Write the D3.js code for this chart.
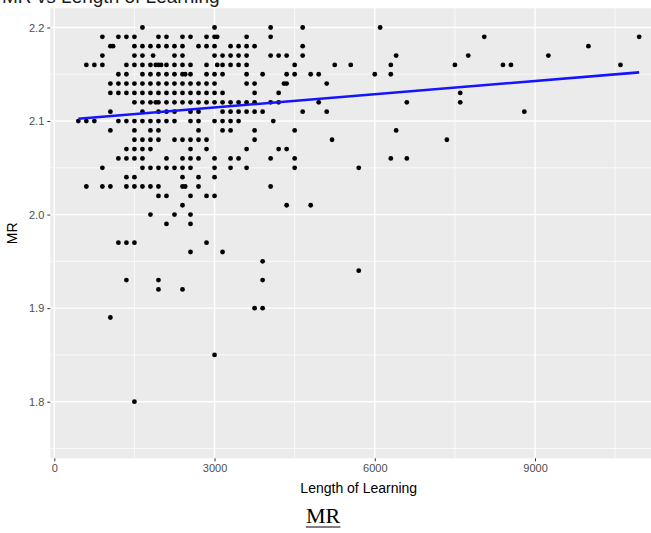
<!DOCTYPE html>
<html>
<head>
<meta charset="utf-8">
<script src="https://cdn.jsdelivr.net/npm/d3@7"></script>
<style>
  html, body { margin: 0; padding: 0; background: #ffffff; }
  svg { display: block; }
</style>
</head>
<body>
<div id="chart"></div>
<script>
// ---- data ----
const mrRows = [2.20, 2.19, 2.18, 2.17, 2.16, 2.15, 2.14, 2.13, 2.12, 2.11, 2.10,
                2.09, 2.08, 2.07, 2.06, 2.05, 2.04, 2.03, 2.02, 2.01, 2.00,
                1.99, 1.97, 1.96, 1.95, 1.94, 1.93, 1.92, 1.90, 1.89, 1.85, 1.80];
const learningByRow = [
  [1650, 3000, 4050, 4650, 6100],
  [900, 1200, 1350, 1500, 1950, 2100, 2400, 2550, 2850, 3000, 3050, 3600, 4050, 8050, 10950],
  [1050, 1100, 1500, 1650, 1800, 1950, 2100, 2250, 2400, 2700, 2850, 3000, 3300, 3450, 3600, 3750, 4650, 10000],
  [900, 1500, 1650, 1850, 2250, 2400, 3000, 3150, 3300, 3450, 3600, 4050, 4200, 4350, 4650, 6400, 7750, 9250],
  [600, 750, 900, 1350, 1500, 1650, 1800, 1900, 1950, 2000, 2100, 2250, 2400, 2550, 2850, 3050, 3150, 3300, 3450, 3600, 4500, 5250, 5550, 6300, 7500, 8400, 8550, 10600],
  [1200, 1350, 1650, 1800, 1950, 2100, 2250, 2400, 2450, 2550, 2850, 3000, 3150, 3600, 3900, 4350, 4500, 4800, 4950, 6000, 6300],
  [1050, 1200, 1350, 1500, 1650, 1800, 1950, 2100, 2250, 2400, 2550, 2700, 2850, 3000, 3600, 3750, 4300, 4350, 5100],
  [1050, 1200, 1350, 1500, 1650, 1800, 1950, 2100, 2250, 2400, 2550, 2700, 2850, 3000, 3150, 3750, 4200, 7600],
  [1500, 1650, 1800, 1900, 1950, 2100, 2250, 2400, 2550, 2700, 2850, 3000, 3150, 3300, 3450, 3600, 3750, 4050, 4200, 4950, 6600, 7600],
  [1050, 1650, 1950, 2100, 2250, 2550, 2700, 3150, 3300, 3450, 3600, 3750, 3900, 4650, 5100, 8800],
  [450, 600, 750, 1200, 1350, 1500, 1650, 1800, 1950, 2100, 2250, 2550, 2700, 3000, 3150, 3300, 3450, 4100],
  [1050, 1500, 1800, 1950, 2700, 3150, 3300, 3750, 4500, 6400],
  [1500, 1650, 1800, 1950, 2250, 2400, 2550, 2700, 2850, 3750, 5200, 7350],
  [1350, 1500, 1650, 1800, 2550, 2850, 3600, 4200, 4350],
  [1200, 1350, 1500, 1650, 2100, 2400, 2550, 2700, 3000, 3300, 3450, 4050, 4500, 6300, 6600],
  [900, 1650, 1800, 1950, 2100, 2250, 2400, 2550, 3000, 3300, 3600, 4500, 5700],
  [1350, 1500, 2400, 2700, 3000],
  [600, 900, 1050, 1350, 1500, 1650, 1800, 1950, 2400, 2450, 2700, 4050],
  [1950, 2100, 2550, 2850, 3000],
  [2400, 4350, 4800],
  [1800, 2250, 2550],
  [2100, 2550],
  [1200, 1350, 1500, 2850],
  [2550, 3150],
  [3900],
  [5700],
  [1350, 1950, 3900],
  [1950, 2400],
  [3750, 3900],
  [1050],
  [3000],
  [1500]
];
// fitted linear trend (geom_smooth, method = lm), read at its two ends
const fitX = [450, 10950];
const fitY = [2.1025, 2.152];

const xTicks = [0, 3000, 6000, 9000];
const xMinor = [1500, 4500, 7500, 10500];
const yTicks = [1.8, 1.9, 2.0, 2.1, 2.2];
const yMinor = [1.75, 1.85, 1.95, 2.05, 2.15];

const titleText = "MR vs Length of Learning";
const xTitle = "Length of Learning";
const yTitle = "MR";
const captionText = "MR";

// ---- build points ----
const points = [];
mrRows.forEach((mr, i) => learningByRow[i].forEach(len => points.push({x: len, y: mr})));
const fitData = fitX.map((x, i) => ({x, y: fitY[i]}));

// ---- layout ----
const W = 651, H = 533;
const panel = {left: 50.3, right: 667.2, top: 8.3, bottom: 458.3};

const x = d3.scaleLinear().domain([-75, 11475]).range([panel.left, panel.right]);
const y = d3.scaleLinear().domain([1.7395, 2.2205]).range([panel.bottom, panel.top]);

const svg = d3.select("#chart").append("svg")
  .attr("width", W).attr("height", H)
  .style("font-family", "'Liberation Sans', Arial, sans-serif");

// clipped-off title at very top
svg.append("text")
  .attr("x", 2).attr("y", 3)
  .attr("font-size", 19)
  .attr("fill", "#1a1a1a")
  .text(titleText);

// panel background
svg.append("rect")
  .attr("x", panel.left).attr("y", panel.top)
  .attr("width", panel.right - panel.left).attr("height", panel.bottom - panel.top)
  .attr("fill", "#EBEBEB");

const grid = svg.append("g");
grid.selectAll(".ymin").data(yMinor).join("line")
  .attr("x1", panel.left).attr("x2", panel.right)
  .attr("y1", d => y(d)).attr("y2", d => y(d))
  .attr("stroke", "#ffffff").attr("stroke-width", 0.7);
grid.selectAll(".xmin").data(xMinor).join("line")
  .attr("y1", panel.top).attr("y2", panel.bottom)
  .attr("x1", d => x(d)).attr("x2", d => x(d))
  .attr("stroke", "#ffffff").attr("stroke-width", 0.7);
grid.selectAll(".ymaj").data(yTicks).join("line")
  .attr("x1", panel.left).attr("x2", panel.right)
  .attr("y1", d => y(d)).attr("y2", d => y(d))
  .attr("stroke", "#ffffff").attr("stroke-width", 1.4);
grid.selectAll(".xmaj").data(xTicks).join("line")
  .attr("y1", panel.top).attr("y2", panel.bottom)
  .attr("x1", d => x(d)).attr("x2", d => x(d))
  .attr("stroke", "#ffffff").attr("stroke-width", 1.4);

// points
svg.append("g").selectAll("circle").data(points).join("circle")
  .attr("cx", d => x(d.x)).attr("cy", d => y(d.y))
  .attr("r", 2.4).attr("fill", "#000000");

// fit line
svg.append("path").datum(fitData)
  .attr("d", d3.line().x(d => x(d.x)).y(d => y(d.y)))
  .attr("fill", "none").attr("stroke", "#1414ff").attr("stroke-width", 2.6);

// axes
const xAxis = d3.axisBottom(x).tickValues(xTicks).tickSize(3).tickPadding(3).tickFormat(d3.format("d"));
const gx = svg.append("g").attr("transform", `translate(0,${panel.bottom})`).call(xAxis);
gx.select(".domain").remove();
gx.selectAll(".tick line").attr("stroke", "#333333").attr("stroke-width", 1);
gx.selectAll(".tick text").attr("fill", "#4D4D4D").attr("font-size", 11)
  .attr("font-family", "'Liberation Sans', Arial, sans-serif");

const yAxis = d3.axisLeft(y).tickValues(yTicks).tickSize(3).tickPadding(3).tickFormat(d3.format(".1f"));
const gy = svg.append("g").attr("transform", `translate(${panel.left},0)`).call(yAxis);
gy.select(".domain").remove();
gy.selectAll(".tick line").attr("stroke", "#333333").attr("stroke-width", 1);
gy.selectAll(".tick text").attr("fill", "#4D4D4D").attr("font-size", 11)
  .attr("font-family", "'Liberation Sans', Arial, sans-serif");

// axis titles
svg.append("text")
  .attr("x", (panel.left + panel.right) / 2).attr("y", 493)
  .attr("text-anchor", "middle").attr("font-size", 14).attr("fill", "#000")
  .text(xTitle);
svg.append("text")
  .attr("transform", `translate(17,${(panel.top + panel.bottom) / 2}) rotate(-90)`)
  .attr("text-anchor", "middle").attr("font-size", 14).attr("fill", "#000")
  .text(yTitle);

// caption below
const cap = svg.append("text")
  .attr("x", 323).attr("y", 523)
  .attr("text-anchor", "middle")
  .attr("font-family", "'Liberation Serif', 'Times New Roman', serif")
  .attr("font-size", 22).attr("fill", "#000")
  .text(captionText);
const bb = cap.node().getBBox();
svg.append("line")
  .attr("x1", bb.x).attr("x2", bb.x + bb.width)
  .attr("y1", 527).attr("y2", 527)
  .attr("stroke", "#000").attr("stroke-width", 1.2);
</script>
</body>
</html>
